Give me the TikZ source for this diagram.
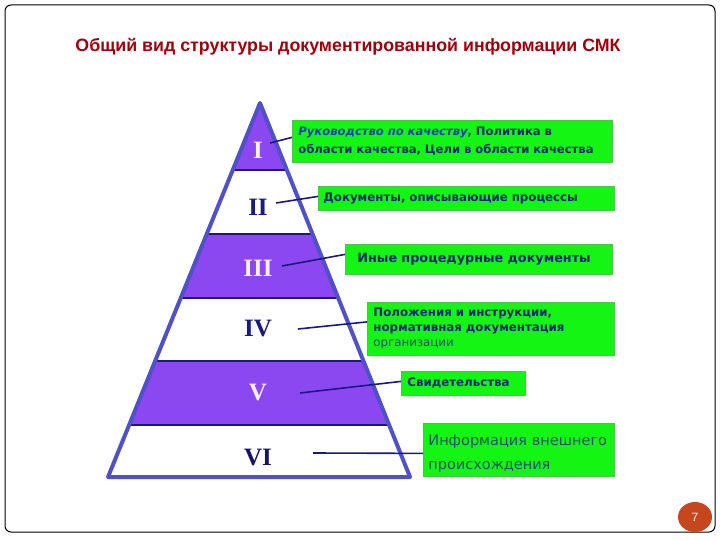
\documentclass[tikz,border=0pt]{standalone}
\usepackage{fontspec}
\setmainfont{Liberation Sans}
\newfontfamily\boxfont{DejaVu Sans}
\newfontfamily\romfont{Liberation Serif}
\usepackage{tikz}
\usetikzlibrary{positioning, shapes.geometric}

\definecolor{titlered}{RGB}{160,0,10}
\definecolor{bandpurple}{RGB}{140,72,240}
\definecolor{edgeblue}{RGB}{80,80,200}
\definecolor{navy}{RGB}{25,25,130}
\definecolor{boxgreen}{RGB}{20,245,20}
\definecolor{boxedge}{RGB}{70,200,70}
\definecolor{boxtext}{RGB}{20,40,120}
\definecolor{italblue}{RGB}{30,60,190}
\definecolor{tealtext}{RGB}{35,80,110}
\definecolor{pagered}{RGB}{200,70,30}

\tikzset{
  levelbox/.style={draw=boxedge, fill=boxgreen, line width=0.8pt, anchor=north west,
    inner sep=0pt, text=boxtext, font=\boxfont\bfseries\fontsize{11.8}{15}\selectfont,
    align=left},
  romlabel/.style={font=\romfont\bfseries\fontsize{25}{25}\selectfont},
  link/.style={draw=navy, line width=1.6pt},
}

\begin{document}
\begin{tikzpicture}[x=1pt, y=-1pt]
  % Define parameters
  \def\apexX{260}   % apex of the pyramid
  \def\apexY{103}
  \def\baseL{108}   % base corners
  \def\baseR{410}
  \def\baseY{477}

  \useasboundingbox (0,0) rectangle (720,540);

  % Draw frame
  \draw[line width=1pt, rounded corners=6pt] (5,5) rectangle (715,532);

  % Title
  \node[text=titlered, font=\bfseries\fontsize{17.8}{20}\selectfont] (title) at (348,47)
    {Общий вид структуры документированной информации СМК};

  % Draw bands of the pyramid
  \begin{scope}
    \clip (\apexX,\apexY) -- (\baseR,\baseY) -- (\baseL,\baseY) -- cycle;
    \foreach \top/\bot in {100/170, 234/298, 361/425} {
      \fill[bandpurple] (0,\top) rectangle (720,\bot);
    }
    \foreach \y in {170, 234, 298, 361, 425} {
      \draw[navy, line width=1.4pt] (0,\y) -- (720,\y);
    }
  \end{scope}
  \draw[edgeblue, line width=4pt, line join=round]
    (\apexX,\apexY) -- (\baseR,\baseY) -- (\baseL,\baseY) -- cycle;

  % Roman numerals
  \node[romlabel, text=white!92!bandpurple] (n1) at (258,150) {I};
  \node[romlabel, text=navy] (n2) at (258,207) {II};
  \node[romlabel, text=white!92!bandpurple] (n3) at (258,268) {III};
  \node[romlabel, text=navy] (n4) at (258,329) {IV};
  \node[romlabel, text=white!92!bandpurple] (n5) at (258,393) {V};
  \node[romlabel, text=navy!80!black] (n6) at (258,458) {VI};

  % Green boxes
  \node[levelbox, minimum width=320pt, minimum height=42pt, text width=320pt,
        font=\boxfont\bfseries\fontsize{11.6}{18}\selectfont] (b1) at (292,120)
    {\hspace*{6pt}{\color{italblue}\itshape Руководство по качеству}, Политика в\\
     \hspace*{6pt}области качества, Цели в области качества};
  \node[levelbox, minimum width=296pt, minimum height=24pt, text width=296pt] (b2) at (318,186)
    {\hspace*{5pt}Документы, описывающие процессы};
  \node[levelbox, minimum width=267pt, minimum height=30pt, text width=267pt,
        font=\boxfont\bfseries\fontsize{12.8}{15}\selectfont] (b3) at (345,244)
    {\hspace*{12pt}Иные процедурные документы};
  \node[levelbox, minimum width=247pt, minimum height=53pt, text width=247pt] (b4) at (367,302)
    {\hspace*{6pt}Положения и инструкции,\\
     \hspace*{6pt}нормативная документация\\
     \hspace*{6pt}{\mdseries\color{tealtext}организации}};
  \node[levelbox, minimum width=124pt, minimum height=24pt, text width=124pt] (b5) at (401,371)
    {\hspace*{6pt}Свидетельства};
  \node[levelbox, minimum width=191pt, minimum height=53pt, text width=191pt,
        text=tealtext, font=\boxfont\fontsize{14.5}{24}\selectfont] (b6) at (423,423)
    {\rule{0pt}{18pt}\hspace*{5pt}Информация внешнего\\
     \hspace*{5pt}происхождения};

  % Connectors
  \coordinate (c1) at (270,143);
  \coordinate (c2) at (276,203);
  \coordinate (c3) at (282,266);
  \coordinate (c4) at (298,329);
  \coordinate (c5) at (300,393);
  \coordinate (c6) at (313,453);
  \draw[link] (c1) -- ([yshift=4pt]b1.west);
  \draw[link] (c2) -- ([yshift=2pt]b2.west);
  \draw[link] (c3) -- ([yshift=5pt]b3.west);
  \draw[link] (c4) -- ([yshift=7pt]b4.west);
  \draw[link] (c5) -- ([yshift=2pt]b5.west);
  \draw[link] (c6) -- ([yshift=-3.5pt]b6.west);

  % Page number
  \node[fill=pagered, ellipse, minimum width=34pt, minimum height=30pt, inner sep=0pt,
        text=white, font=\fontsize{12}{12}\selectfont] (page) at (695,517) {7};
\end{tikzpicture}
\end{document}
